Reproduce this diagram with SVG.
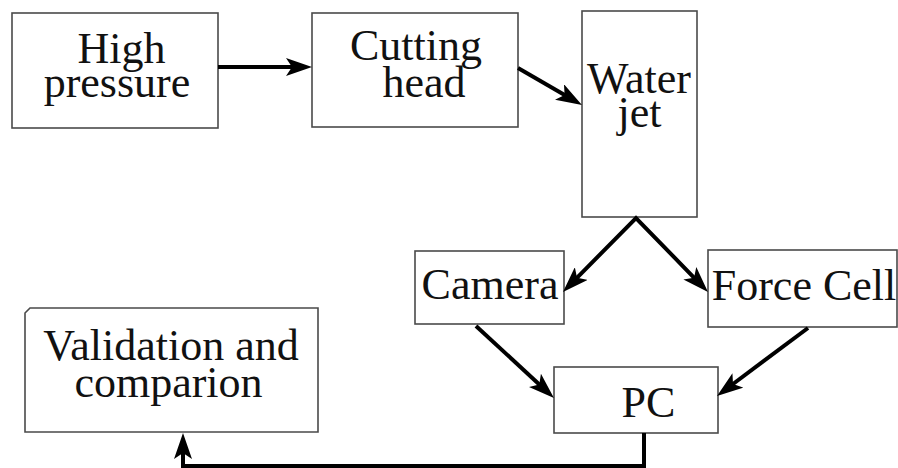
<svg xmlns="http://www.w3.org/2000/svg" width="898" height="468" viewBox="0 0 898 468">
<style>
.box{fill:#fff;stroke:#4a4a4a;stroke-width:1.6}
.lbl{font-family:'Liberation Serif','Times New Roman','DejaVu Serif',serif;font-size:44px;fill:#111;text-anchor:middle}
.conn{fill:none;stroke:#000;stroke-width:4;stroke-linejoin:miter}
</style>
<defs>
<marker id="ah" markerUnits="userSpaceOnUse" markerWidth="26" markerHeight="18" viewBox="0 0 26 18" refX="16" refY="9" orient="auto-start-reverse">
<path d="M0,0 L26,9 L0,18 L6,9 Z" fill="#000"/>
</marker>
</defs>
<g id="high-pressure">
<rect class="box" x="12" y="13" width="206" height="115"/>
<text class="lbl" font-family="Liberation Serif, serif" x="121.5" y="63">High</text>
<text class="lbl" font-family="Liberation Serif, serif" x="117" y="97">pressure</text>
</g>
<g id="cutting-head">
<rect class="box" x="312" y="13" width="206" height="114"/>
<text class="lbl" font-family="Liberation Serif, serif" x="416" y="60">Cutting</text>
<text class="lbl" font-family="Liberation Serif, serif" x="424" y="97">head</text>
</g>
<g id="water-jet">
<rect class="box" x="582" y="11" width="115" height="206"/>
<text class="lbl" font-family="Liberation Serif, serif" x="639" y="93">Water</text>
<text class="lbl" font-family="Liberation Serif, serif" x="639.5" y="127">jet</text>
</g>
<g id="camera">
<rect class="box" x="415" y="251" width="149" height="73"/>
<text class="lbl" font-family="Liberation Serif, serif" x="490" y="299">Camera</text>
</g>
<g id="force-cell">
<rect class="box" x="708" y="250" width="189" height="77"/>
<text class="lbl" font-family="Liberation Serif, serif" x="804" y="300">Force Cell</text>
</g>
<g id="pc">
<rect class="box" x="554" y="367" width="164" height="66"/>
<text class="lbl" font-family="Liberation Serif, serif" x="648.5" y="417">PC</text>
</g>
<g id="validation">
<path class="box" d="M25,313 L30,308 L318,308 L318,432 L25,432 Z"/>
<text class="lbl" font-family="Liberation Serif, serif" x="171" y="360">Validation and</text>
<text class="lbl" font-family="Liberation Serif, serif" x="168.5" y="397">comparion</text>
</g>
<g id="connectors">
<line class="conn" x1="218" y1="67" x2="302" y2="67" marker-end="url(#ah)"/>
<line class="conn" x1="518" y1="68" x2="573.3" y2="100" marker-end="url(#ah)"/>
<path class="conn" d="M570,284.9 L636,218 L701,284.8" marker-start="url(#ah)" marker-end="url(#ah)"/>
<line class="conn" x1="476" y1="326" x2="546.6" y2="391.2" marker-end="url(#ah)"/>
<line class="conn" x1="808" y1="328" x2="725" y2="390" marker-end="url(#ah)"/>
<path class="conn" d="M644,433 L644,466 L183,466 L183,443" marker-end="url(#ah)"/>
</g>
</svg>
